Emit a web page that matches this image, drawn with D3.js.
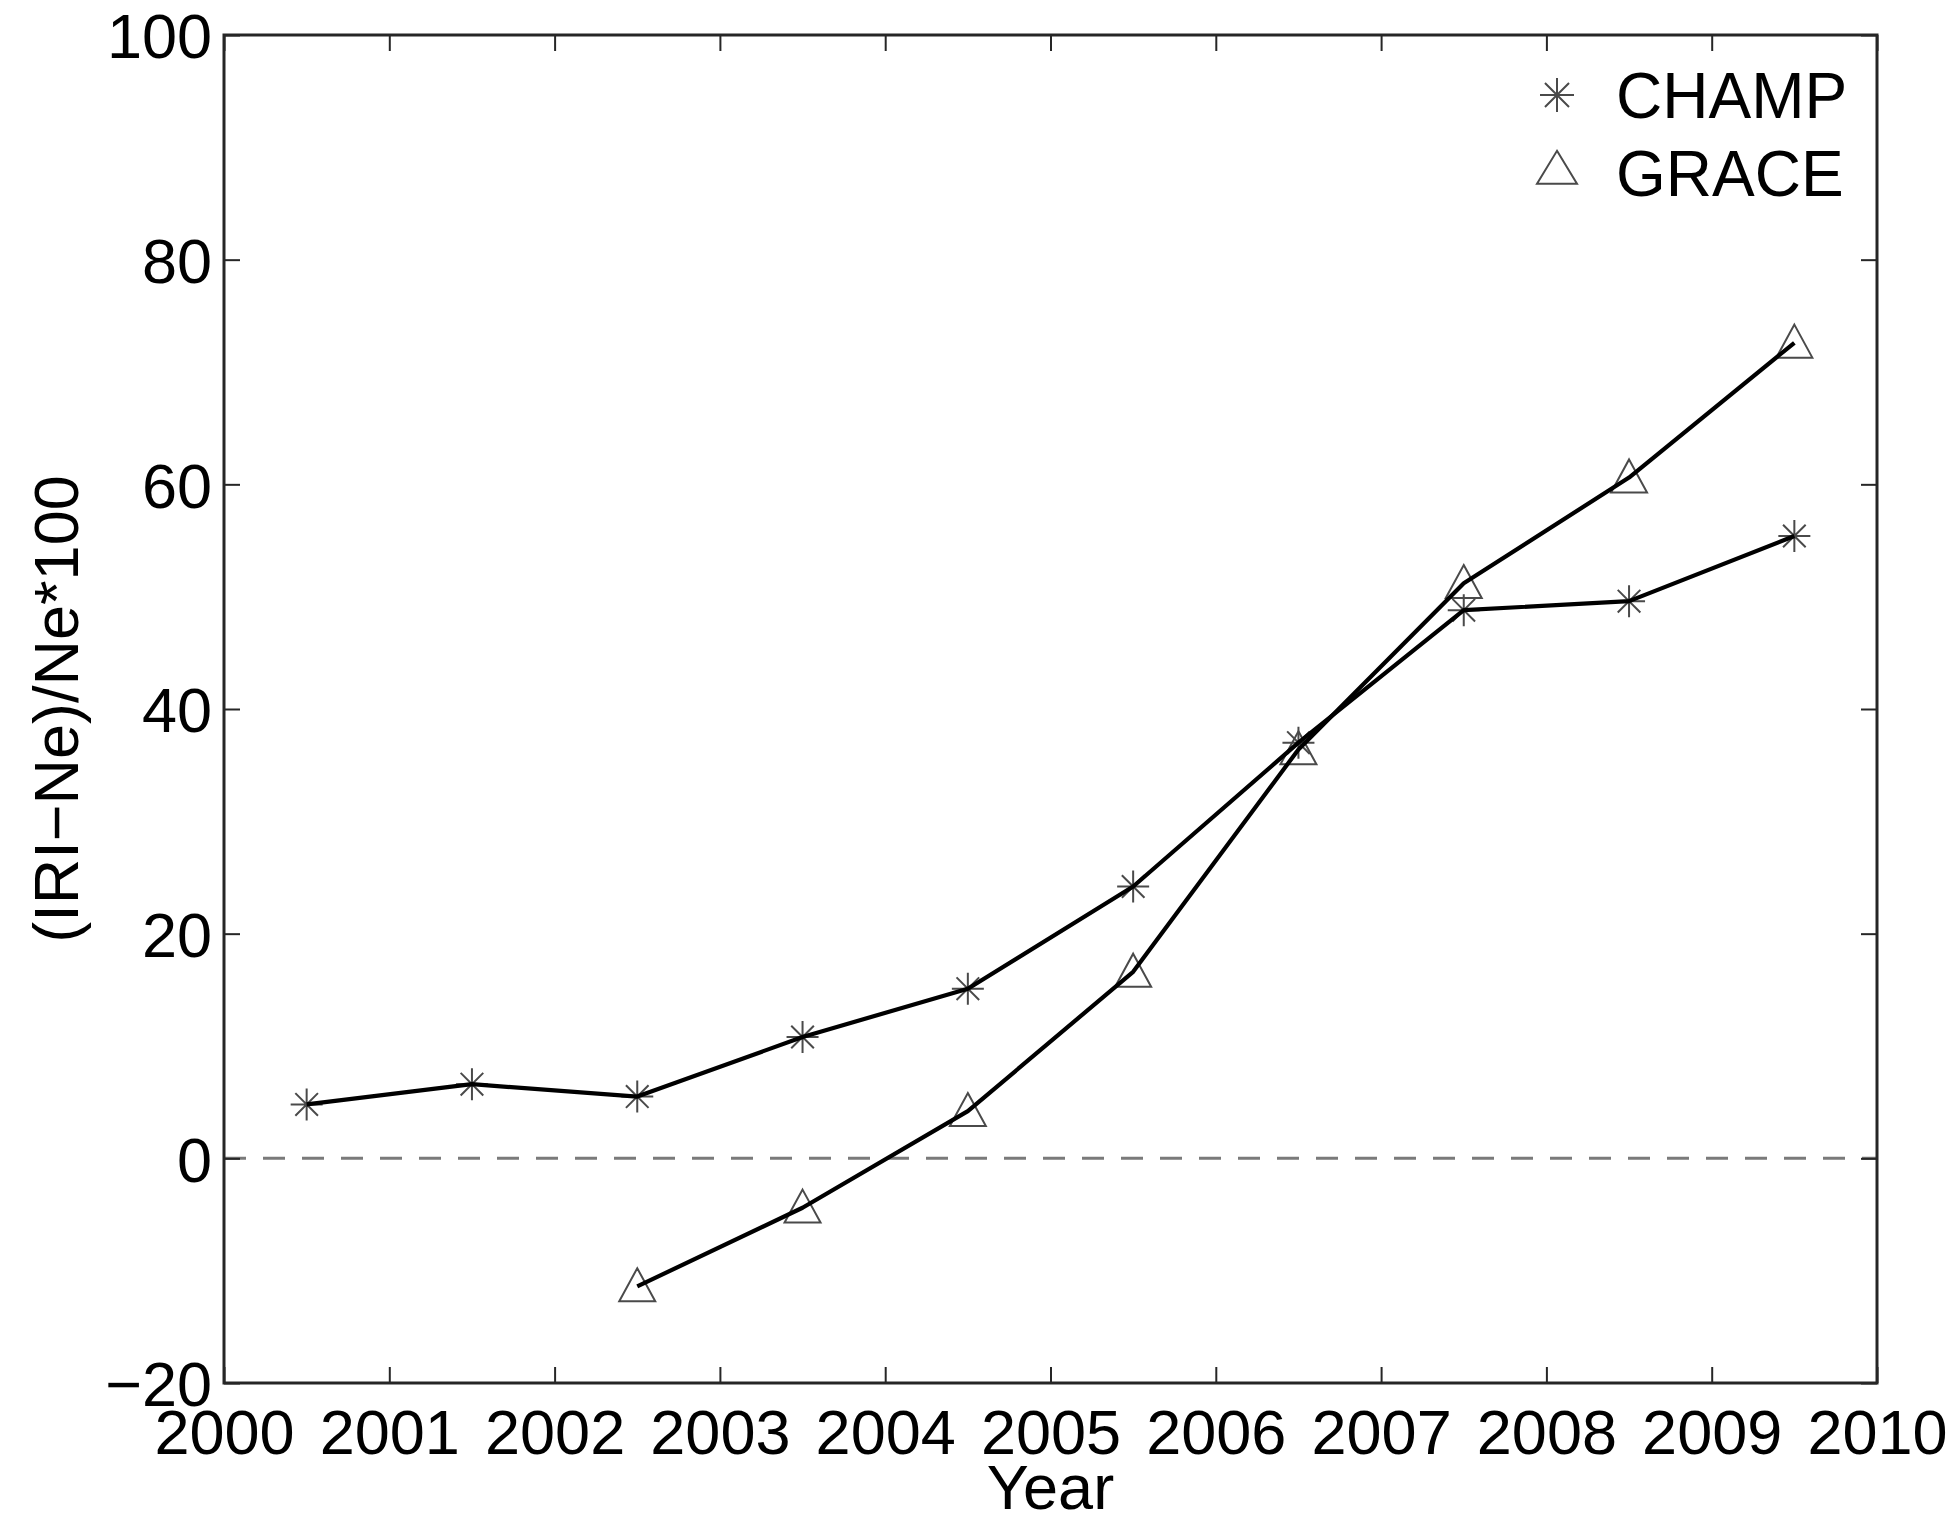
<!DOCTYPE html>
<html>
<head>
<meta charset="utf-8">
<script src="https://cdn.jsdelivr.net/npm/d3@7"></script>
<style>
  html, body { margin: 0; padding: 0; background: #fff; }
  svg text { font-family: "Liberation Sans", Arial, Helvetica, sans-serif; fill: #000; }
</style>
</head>
<body>
<svg id="chart" width="1960" height="1521"></svg>
<script>
// Yearly mean relative deviation of IRI from in-situ electron density
const champYears = [2000.5, 2001.5, 2002.5, 2003.5, 2004.5, 2005.5, 2006.5, 2007.5, 2008.5, 2009.5];
const champValues = [4.8, 6.6, 5.5, 10.8, 15.1, 24.2, 37.0, 48.8, 49.6, 55.4];

const graceYears = [2002.5, 2003.5, 2004.5, 2005.5, 2006.5, 2007.5, 2008.5, 2009.5];
const graceValues = [-11.4, -4.4, 4.2, 16.6, 36.4, 51.2, 60.6, 72.6];

const xTicks = [2000, 2001, 2002, 2003, 2004, 2005, 2006, 2007, 2008, 2009, 2010];
const yTicks = [-20, 0, 20, 40, 60, 80, 100];
const legendLabels = ["CHAMP", "GRACE"];

const svg = d3.select("#chart");
const margin = { left: 224, right: 1877, top: 35, bottom: 1383 };

const x = d3.scaleLinear().domain([2000, 2010]).range([margin.left, margin.right]);
const y = d3.scaleLinear().domain([-20, 100]).range([margin.bottom, margin.top]);

const fontSize = 63;
const tickLen = 16;
const frameColor = "#262626";

// zero reference line
svg.append("line")
  .attr("x1", x(2000)).attr("x2", x(2010))
  .attr("y1", y(0)).attr("y2", y(0))
  .attr("stroke", "#7a7a7a").attr("stroke-width", 3)
  .attr("stroke-dasharray", "22 17");

// markers
const markerColor = "#4a4a4a";
function drawStar(g, cx, cy, r) {
  const d = r * Math.SQRT1_2;
  const p = `M${cx - r},${cy}L${cx + r},${cy}M${cx},${cy - r}L${cx},${cy + r}` +
            `M${cx - d},${cy - d}L${cx + d},${cy + d}M${cx - d},${cy + d}L${cx + d},${cy - d}`;
  g.append("path").attr("d", p).attr("fill", "none")
    .attr("stroke", markerColor).attr("stroke-width", 2);
}
function drawTriangle(g, cx, cy, w, h) {
  const p = `M${cx},${cy - h * 0.55}L${cx + w / 2},${cy + h * 0.45}L${cx - w / 2},${cy + h * 0.45}Z`;
  g.append("path").attr("d", p).attr("fill", "none")
    .attr("stroke", markerColor).attr("stroke-width", 2).attr("stroke-linejoin", "miter");
}

const marks = svg.append("g");
champYears.forEach((yr, i) => drawStar(marks, x(yr), y(champValues[i]), 16));
graceYears.forEach((yr, i) => drawTriangle(marks, x(yr), y(graceValues[i]), 36, 33));

// series lines
const line = d3.line().x(d => x(d[0])).y(d => y(d[1]));
svg.append("path")
  .datum(d3.zip(champYears, champValues))
  .attr("d", line).attr("fill", "none")
  .attr("stroke", "#000").attr("stroke-width", 4.2).attr("stroke-linejoin", "round");
svg.append("path")
  .datum(d3.zip(graceYears, graceValues))
  .attr("d", line).attr("fill", "none")
  .attr("stroke", "#000").attr("stroke-width", 4.2).attr("stroke-linejoin", "round");

// axes: ticks inward on all four sides
const axisBottom = d3.axisBottom(x).tickValues(xTicks).tickSize(-tickLen).tickPadding(0).tickFormat(d3.format("d"));
const axisTop = d3.axisTop(x).tickValues(xTicks).tickSize(-tickLen).tickFormat("");
const axisLeft = d3.axisLeft(y).tickValues(yTicks).tickSize(-tickLen).tickPadding(0)
  .tickFormat(d => d < 0 ? "\u2212" + Math.abs(d) : String(d));
const axisRight = d3.axisRight(y).tickValues(yTicks).tickSize(-tickLen).tickFormat("");

function styleAxis(g) {
  g.select(".domain").remove();
  g.selectAll(".tick line").attr("stroke", frameColor).attr("stroke-width", 2);
}

const gb = svg.append("g").attr("transform", `translate(0,${margin.bottom})`).call(axisBottom).call(styleAxis);
gb.selectAll(".tick text")
  .attr("font-size", fontSize).attr("font-family", null)
  .attr("dy", null).attr("y", 71).attr("fill", "#000");

svg.append("g").attr("transform", `translate(0,${margin.top})`).call(axisTop).call(styleAxis);

const gl = svg.append("g").attr("transform", `translate(${margin.left},0)`).call(axisLeft).call(styleAxis);
gl.selectAll(".tick text")
  .attr("font-size", fontSize).attr("font-family", null)
  .attr("x", -12).attr("dy", "0.36em").attr("fill", "#000");

svg.append("g").attr("transform", `translate(${margin.right},0)`).call(axisRight).call(styleAxis);

// frame
svg.append("rect")
  .attr("x", margin.left).attr("y", margin.top)
  .attr("width", margin.right - margin.left).attr("height", margin.bottom - margin.top)
  .attr("fill", "none").attr("stroke", frameColor).attr("stroke-width", 3);

// axis titles
svg.append("text")
  .attr("x", (margin.left + margin.right) / 2).attr("y", 1509)
  .attr("text-anchor", "middle").attr("font-size", fontSize)
  .text("Year");

svg.append("text")
  .attr("transform", `translate(78,${(margin.top + margin.bottom) / 2}) rotate(-90)`)
  .attr("text-anchor", "middle").attr("font-size", fontSize)
  .text("(IRI\u2212Ne)/Ne*100");

// legend
const legend = svg.append("g");
drawStar(legend, 1557, 95, 17);
drawTriangle(legend, 1557, 169, 40, 33);
legend.append("text").attr("x", 1616).attr("y", 118).attr("font-size", 64).text(legendLabels[0]);
legend.append("text").attr("x", 1616).attr("y", 196).attr("font-size", 64).text(legendLabels[1]);
</script>
</body>
</html>
